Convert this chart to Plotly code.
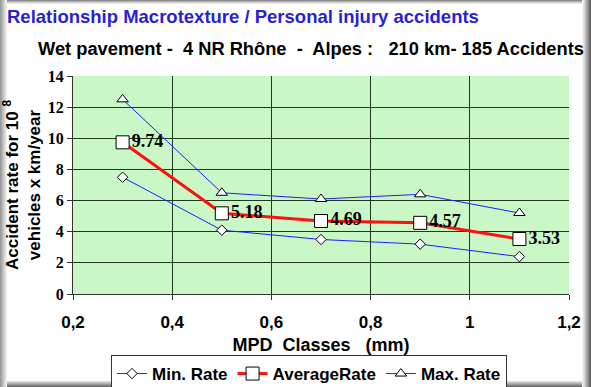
import plotly.graph_objects as go

mpd = [0.3, 0.5, 0.7, 0.9, 1.1]
min_rate = [7.5, 4.1, 3.5, 3.2, 2.4]
avg_rate = [9.74, 5.18, 4.69, 4.57, 3.53]
max_rate = [12.5, 6.5, 6.1, 6.4, 5.2]
x_ticks = [0.2, 0.4, 0.6, 0.8, 1.0, 1.2]
x_tick_text = ["0,2", "0,4", "0,6", "0,8", "1", "1,2"]
y_ticks = [0, 2, 4, 6, 8, 10, 12, 14]

W, H = 591, 387
L, R, T, B = 73, 22, 76, 93
PW, PH = W - L - R, H - T - B


def px(x):
    return (x - L) / PW


def py(y):
    return (H - B - y) / PH


fig = go.Figure()
fig.add_trace(go.Scatter(
    x=mpd, y=min_rate, mode="lines+markers", name="Min. Rate",
    line=dict(color="#2020ff", width=1),
    marker=dict(symbol="diamond", size=8, color="white", line=dict(color="black", width=1)),
))
fig.add_trace(go.Scatter(
    x=mpd, y=avg_rate, mode="lines+markers+text", name="AverageRate",
    line=dict(color="#ff1010", width=3),
    marker=dict(symbol="square", size=13, color="white", line=dict(color="black", width=1)),
    text=[f"{v:.2f}" for v in avg_rate], textposition="middle right",
    textfont=dict(family="Liberation Serif", size=18, color="black", weight="bold"),
))
fig.add_trace(go.Scatter(
    x=mpd, y=max_rate, mode="lines+markers", name="Max. Rate",
    line=dict(color="#2020ff", width=1),
    marker=dict(symbol="triangle-up", size=10, color="white", line=dict(color="black", width=1)),
))

# soft frame around the picture
shapes = []


def band(x0, x1, y0, y1, c):
    shapes.append(dict(type="rect", xref="paper", yref="paper", layer="above",
                       x0=px(x0), x1=px(x1), y0=py(y1), y1=py(y0),
                       fillcolor=c, line=dict(width=0)))


left = ["#9a9a9a", "#a8a8a8", "#b6b6b6", "#c6c6c6", "#d6d6d6", "#e4e4e4", "#f0f0f0"]
for i, c in enumerate(left):
    band(i, i + 1, 0, H, c)
right = ["#606060", "#747474", "#888888", "#9c9c9c", "#b0b0b0", "#c4c4c4",
         "#d6d6d6", "#e6e6e6", "#f2f2f2"]
for i, c in enumerate(right):
    band(W - i - 1, W - i, 0, H, c)
top = ["#8a8a8a", "#b0b0b0", "#d0d0d0", "#ececec"]
for i, c in enumerate(top):
    band(len(left), W - len(right), i, i + 1, c)
bottom = ["#6a6a6a", "#808080", "#989898", "#b0b0b0", "#c8c8c8", "#dedede"]
for i, c in enumerate(bottom):
    band(len(left), W - len(right), H - i - 1, H - i, c)

fig.update_layout(
    width=W, height=H,
    margin=dict(l=L, r=R, t=T, b=B, autoexpand=False),
    paper_bgcolor="white", plot_bgcolor="#c9f7c6",
    font=dict(family="Liberation Sans", color="black"),
    showlegend=True,
    legend=dict(orientation="h", xref="container", yref="container",
                x=309 / W, xanchor="center", y=(H - 355) / H, yanchor="top",
                bordercolor="#333333", borderwidth=1, bgcolor="white",
                font=dict(family="Liberation Sans", size=17, color="black", weight="bold"),
                itemwidth=30, tracegroupgap=0),
    shapes=shapes,
    annotations=[
        dict(text="Relationship Macrotexture / Personal injury accidents", xref="paper", yref="paper",
             x=px(5), y=py(17), xanchor="left", yanchor="middle", showarrow=False,
             font=dict(family="Liberation Sans", size=18.5, color="#2a1fd8", weight="bold")),
        dict(text="Wet pavement -  4 NR Rhône  -  Alpes :   210 km- 185 Accidents", xref="paper", yref="paper",
             x=px(36), y=py(48), xanchor="left", yanchor="middle", showarrow=False,
             font=dict(family="Liberation Sans", size=18.3, color="black", weight="bold")),
    ],
    xaxis=dict(range=[0.2, 1.2], tickvals=x_ticks, ticktext=x_tick_text,
               showgrid=True, gridcolor="#1f3a1f", gridwidth=1,
               ticks="outside", ticklen=5, tickcolor="#333333",
               showline=True, linecolor="#333333", mirror=False, zeroline=False,
               automargin=False, ticklabelstandoff=8,
               tickfont=dict(family="Liberation Sans", size=17, color="black", weight="bold"),
               title=dict(text="MPD  Classes   (mm)", standoff=6,
                          font=dict(family="Liberation Sans", size=18, color="black", weight="bold"))),
    yaxis=dict(range=[0, 14], tickvals=y_ticks,
               showgrid=True, gridcolor="#1f3a1f", gridwidth=1,
               ticks="outside", ticklen=5, tickcolor="#333333",
               showline=True, linecolor="#333333", zeroline=False,
               automargin=False,
               tickfont=dict(family="Liberation Serif", size=16, color="black", weight="bold"),
               title=dict(text="Accident rate for 10 <sup>8</sup><br>vehicles x km/year", standoff=6,
                          font=dict(family="Liberation Sans", size=17, color="black", weight="bold"))),
)

fig.write_html("out.html", config={"displayModeBar": False},
               post_script="document.body.style.margin='0';document.body.style.overflow='hidden';")
